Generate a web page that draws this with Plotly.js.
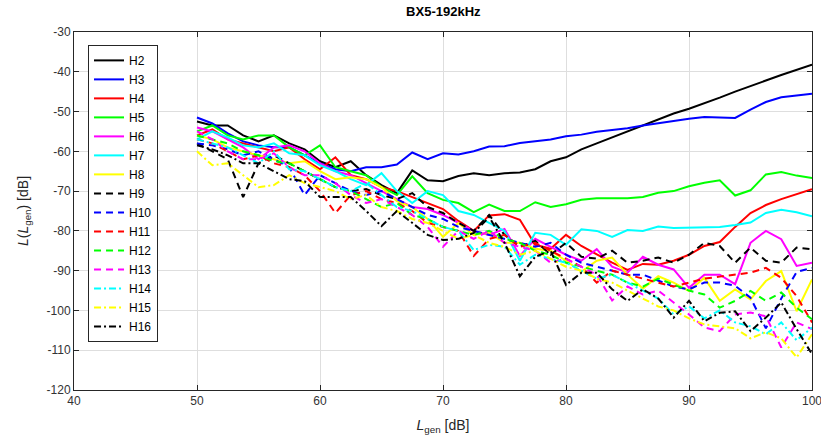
<!DOCTYPE html>
<html>
<head>
<meta charset="utf-8">
<script src="https://cdn.plot.ly/plotly-3.0.1.min.js"></script>
<style>html,body{margin:0;padding:0;background:#fff;}#chart{width:821px;height:441px;}</style>
</head>
<body>
<div id="chart"></div>
<script>
// Generator level L_gen [dB]: 50 .. 100 in 1.25 dB steps (41 points)
const Lgen = [50,51.25,52.5,53.75,55,56.25,57.5,58.75,60,61.25,62.5,63.75,65,66.25,67.5,68.75,70,71.25,72.5,73.75,75,76.25,77.5,78.75,80,81.25,82.5,83.75,85,86.25,87.5,88.75,90,91.25,92.5,93.75,95,96.25,97.5,98.75,100];

const H2  = [-52.5,-53.5,-53.5,-56,-57.5,-56,-58,-59.5,-62.5,-64,-62.5,-66,-68.5,-70.5,-64.8,-67.3,-67.5,-66.2,-65.5,-66,-65.5,-65.3,-64.5,-62.5,-61.5,-59.5,-58,-56.5,-55,-53.6,-52,-50.5,-49.3,-47.8,-46.5,-45,-43.5,-42.2,-40.8,-39.5,-38.2];
const H3  = [-51.5,-53,-55.5,-57.5,-58.5,-59,-59,-61,-63,-64.5,-65,-64,-64,-63.3,-60.3,-62,-60.5,-60.8,-60,-58.8,-58.7,-57.9,-57.4,-57,-56.2,-55.8,-55.1,-54.6,-54.2,-53.5,-53,-52.4,-51.8,-51.4,-51.5,-51.6,-49.5,-47.6,-46.4,-45.9,-45.5];
const H4  = [-56,-54.5,-57,-58,-59,-60,-59,-62,-64.5,-61.5,-66,-67,-69,-70,-71.5,-73,-74.5,-77.5,-80,-76.1,-75.8,-77.2,-83.5,-84.5,-81,-83.8,-86,-88,-89.8,-88.3,-88.5,-87.5,-86,-83.8,-82.8,-79,-75.5,-73.5,-72,-70.7,-69.5];
const H5  = [-55,-53.5,-56,-57,-56,-56,-59,-61,-58.5,-64,-65,-66,-69,-71,-66.3,-70.5,-72.2,-73,-75.3,-73.4,-75,-75,-72.8,-74,-73.3,-72.2,-71.8,-71.8,-71.8,-71.5,-70.4,-70,-68.8,-67.9,-67.3,-71.1,-69.8,-65.8,-65.2,-66.1,-66.7];
const H6  = [-54,-55,-57,-59,-62,-59,-58.5,-60,-63,-65,-66,-68,-70,-72,-74,-74.5,-76,-78,-80,-81,-79.5,-86.3,-82,-84,-86,-87.5,-84.6,-89,-90.5,-86.5,-88.5,-89.7,-94.3,-91,-91,-93.4,-83,-80,-82.1,-88.8,-88];
const H7  = [-57,-55,-56.5,-58.5,-59,-58,-60.5,-61,-63.5,-65,-67,-68.5,-65.5,-70,-73,-70,-71,-75,-76,-78,-80,-87.5,-80.5,-81,-83.5,-79.6,-80,-81.5,-79.8,-80,-78.9,-79.3,-79.2,-79,-79,-78.5,-77.9,-75.5,-74.7,-75.3,-76.3];
const H8  = [-56,-57,-59,-60,-61,-62,-63,-62.5,-65,-67,-66.5,-67,-69,-72.5,-74,-77,-81.5,-78,-81,-80.5,-83,-83,-84.5,-85,-87.5,-90.3,-87.5,-86.7,-91,-94.5,-91.4,-93,-95.1,-91.8,-97.6,-94.7,-97.2,-92.6,-90.1,-100.2,-92.2];
const H9  = [-58,-60,-62,-71.5,-63,-61,-63,-65,-67,-69,-70,-69.5,-71,-72,-70.5,-74,-75.5,-78,-80,-76,-81,-84,-82.5,-86,-83,-86.5,-87,-85,-88,-87.5,-86.7,-88,-86,-83,-83.8,-88,-84.2,-87.5,-88,-84.2,-84.6];
const H10 = [-58,-58.5,-59.5,-61,-60,-62,-64,-71,-66,-68,-70,-71,-70,-72,-74,-76,-77,-79,-80,-81,-82,-83,-84,-83,-86,-88,-89,-90,-91,-91,-92.6,-94,-94.7,-93,-93,-93.8,-96.8,-104.5,-97,-90.3,-89.3];
const H11 = [-57,-58,-60,-62,-61,-63,-64,-66,-70,-75.5,-71,-70,-72,-73,-75,-78,-79,-80,-86.3,-82,-81,-84,-83,-85,-87,-89,-93,-90,-91,-92,-93,-94,-93,-92,-91.5,-91,-90.5,-89.3,-91.8,-96.4,-103];
const H12 = [-56,-57,-58,-60,-61,-62.5,-63,-65,-67,-69,-70,-72,-74,-73,-76,-77,-79,-80,-81,-80,-82,-83,-85,-86,-88,-89,-90,-91,-93,-94,-92,-93.5,-95,-96,-99.3,-97.6,-95.1,-97.6,-95.5,-99.3,-102.2];
const H13 = [-55,-57,-60,-62,-62,-60.5,-64,-66,-66,-68,-71,-73,-72,-74,-76,-79,-84,-80,-82,-80,-83,-84,-85,-88,-87,-89,-91,-97.5,-94,-96,-95,-98,-101,-104.3,-105.2,-101,-100.5,-101.5,-109.3,-103,-104.7];
const H14 = [-57,-58,-59,-61,-63,-60,-64.5,-65,-67,-69,-70,-68,-71,-74,-75,-77,-79,-80,-84.8,-83.5,-84,-88.5,-86,-87,-88,-90,-92,-91,-93,-95,-97,-101,-99,-102,-100,-103,-104,-106,-103,-107.5,-104.3];
const H15 = [-60,-63.5,-63,-66,-69,-68.5,-66,-68,-69,-70,-72,-71,-74,-75,-77,-78,-80,-82,-81,-83,-84,-86,-85,-87,-89,-90,-92,-93,-95,-97,-99,-100,-102,-103.5,-104,-104.5,-107,-105.5,-107,-111.8,-106];
const H16 = [-58.5,-59.5,-61,-63,-63,-65,-67,-67.5,-71.5,-71.5,-71.5,-75,-78.8,-75,-78,-81,-82.3,-82,-80.5,-76.5,-83,-91.4,-86.5,-85,-93.6,-90.5,-90.5,-94.7,-97.6,-94.7,-97,-101.8,-97.6,-102.7,-100.6,-100.2,-105.2,-101.8,-98,-104.7,-111];

const names  = ['H2','H3','H4','H5','H6','H7','H8','H9','H10','H11','H12','H13','H14','H15','H16'];
const series = [H2,H3,H4,H5,H6,H7,H8,H9,H10,H11,H12,H13,H14,H15,H16];
const colors = ['#000000','#0000ff','#ff0000','#00ff00','#ff00ff','#00ffff','#ffff00',
                '#000000','#0000ff','#ff0000','#00ff00','#ff00ff','#00ffff','#ffff00','#000000'];
const dashes = ['solid','solid','solid','solid','solid','solid','solid',
                '7px,5px','7px,5px','7px,5px','7px,5px','7px,5px',
                '7px,3px,2px,3px','7px,3px,2px,3px','7px,3px,2px,3px'];

// Axis ticks and their labels (hyphen-minus as in the reference)
const xTickVals = [40,50,60,70,80,90,100];
const xTickText = ['40','50','60','70','80','90','100'];
const yTickVals = [-120,-110,-100,-90,-80,-70,-60,-50,-40,-30];
const yTickText = ['-120','-110','-100','-90','-80','-70','-60','-50','-40','-30'];

const traces = series.map((ys, i) => ({
  x: Lgen, y: ys, name: names[i], type: 'scatter', mode: 'lines',
  line: {color: colors[i], width: 2, dash: dashes[i]}
}));

const FONT = 'Liberation Sans, Arial, sans-serif';
const axisCommon = {
  showgrid: true, gridcolor: '#dedede', gridwidth: 1,
  zeroline: false, showline: true, linecolor: '#262626', linewidth: 1,
  mirror: 'ticks', ticks: 'inside', ticklen: 5, tickcolor: '#262626',
  tickmode: 'array', ticklabeloverflow: 'allow',
  tickfont: {family: FONT, size: 12, color: '#333333'}
};

const layout = {
  width: 821, height: 441,
  margin: {l: 74, r: 9, t: 32, b: 51, pad: 0},
  paper_bgcolor: '#ffffff', plot_bgcolor: '#ffffff',
  title: {text: '<b>BX5-192kHz</b>', x: 0.54, xanchor: 'center', y: 0.974, yanchor: 'middle',
          font: {family: FONT, size: 13, color: '#000000'}},
  xaxis: Object.assign({}, axisCommon, {
    range: [40, 100], tickvals: xTickVals, ticktext: xTickText,
    title: {text: '<i>L</i><sub>gen</sub> [dB]', standoff: 12,
            font: {family: FONT, size: 14, color: '#262626'}}
  }),
  yaxis: Object.assign({}, axisCommon, {
    range: [-120, -30], tickvals: yTickVals, ticktext: yTickText,
    title: {text: '<i>L</i>(<i>L</i><sub>gen</sub>) [dB]', standoff: 14,
            font: {family: FONT, size: 14, color: '#262626'}}
  }),
  showlegend: true,
  legend: {
    x: 0.019, y: 0.964, xanchor: 'left', yanchor: 'top',
    bgcolor: '#ffffff', bordercolor: '#262626', borderwidth: 1,
    font: {family: FONT, size: 12, color: '#000000'},
    tracegroupgap: 0, itemwidth: 30
  }
};

Plotly.newPlot('chart', traces, layout, {staticPlot: true, displayModeBar: false});
</script>
</body>
</html>
